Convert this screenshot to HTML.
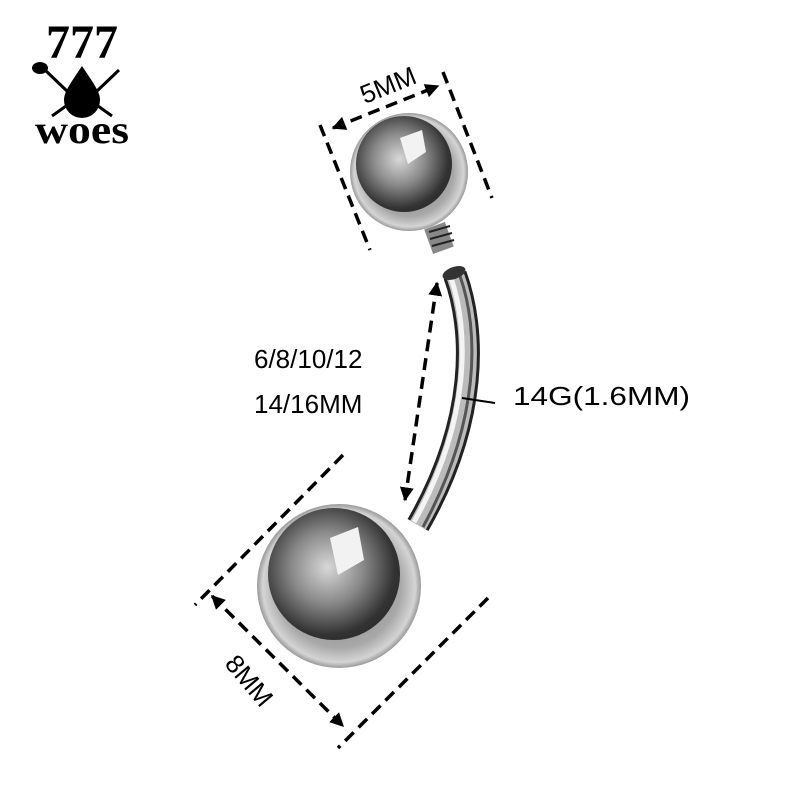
<!DOCTYPE html>
<html><head><meta charset="utf-8"><style>
html,body{margin:0;padding:0;background:#fff;width:800px;height:800px;overflow:hidden}
</style></head><body>
<svg width="800" height="800" viewBox="0 0 800 800" xmlns="http://www.w3.org/2000/svg">
<defs>
<radialGradient id="outer" cx="0.5" cy="0.5" r="0.5">
<stop offset="0" stop-color="#777"/><stop offset="0.75" stop-color="#a8a8a8"/><stop offset="0.93" stop-color="#d4d4d4"/><stop offset="1" stop-color="#999"/>
</radialGradient>
<radialGradient id="inner" cx="0.45" cy="0.45" r="0.6">
<stop offset="0" stop-color="#d8d8d8"/><stop offset="0.45" stop-color="#8a8a8a"/><stop offset="0.85" stop-color="#333"/><stop offset="1" stop-color="#2a2a2a"/>
</radialGradient>
<marker id="ah" viewBox="0 0 10 10" refX="9" refY="5" markerWidth="4" markerHeight="4" orient="auto-start-reverse"><path d="M0,0L10,5L0,10z" fill="#000"/></marker>
</defs>
<!-- logo -->
<text x="82" y="58" font-family="Liberation Serif,serif" font-weight="bold" font-size="48" text-anchor="middle">777</text>
<path d="M82,66 C70,84 64,92 64,100 A18,18 0 0 0 100,100 C100,92 94,84 82,66z" fill="#000"/>
<path d="M45,70 L68,92 M119,70 L96,92 M52,116 L66,106 M112,116 L98,106" stroke="#000" stroke-width="3"/>
<ellipse cx="40" cy="68" rx="8" ry="6" fill="#000"/>
<text x="82" y="143" font-family="Liberation Serif,serif" font-weight="bold" font-size="40" text-anchor="middle" textLength="94" lengthAdjust="spacingAndGlyphs">woes</text>
<!-- bar -->
<path d="M455,275 C475,330 478,420 418,525" fill="none" stroke="#222" stroke-width="24"/>
<path d="M455,275 C475,330 478,420 418,525" fill="none" stroke="#bbb" stroke-width="18"/>
<path d="M451,278 C469,330 471,420 414,522" fill="none" stroke="#f4f4f4" stroke-width="5"/>
<path d="M460,276 C479,330 481,420 423,527" fill="none" stroke="#555" stroke-width="3"/>
<ellipse cx="454" cy="273" rx="12" ry="6" fill="#333" transform="rotate(-20 454 273)"/>
<!-- thread -->
<rect x="428" y="225" width="22" height="26" fill="#888" transform="rotate(-20 439 238)"/>
<path d="M429,232 L450,226 M430,239 L452,233 M432,246 L454,240" stroke="#222" stroke-width="2" />
<!-- small ball -->
<circle cx="409" cy="172" r="59" fill="url(#outer)"/>
<circle cx="404" cy="164" r="48" fill="url(#inner)"/>
<path d="M400,138 L422,130 L426,152 L408,164z" fill="#f2f2f2"/>
<!-- big ball -->
<circle cx="339" cy="586" r="82" fill="url(#outer)"/>
<circle cx="334" cy="574" r="66" fill="url(#inner)"/>
<path d="M330,538 L358,527 L364,560 L338,575z" fill="#f2f2f2"/>
<!-- dims -->
<g stroke="#000" stroke-width="3.5" stroke-dasharray="12,7" fill="none">
<line x1="320" y1="125" x2="370" y2="250"/>
<line x1="443" y1="72" x2="492" y2="198"/>
<line x1="333" y1="128" x2="438" y2="86" marker-start="url(#ah)" marker-end="url(#ah)"/>
<line x1="437" y1="283" x2="405" y2="500" marker-start="url(#ah)" marker-end="url(#ah)"/>
<line x1="343" y1="455" x2="195" y2="605"/>
<line x1="488" y1="598" x2="338" y2="748"/>
<line x1="212" y1="596" x2="343" y2="726" marker-start="url(#ah)" marker-end="url(#ah)"/>
</g>
<line x1="462" y1="398" x2="495" y2="403" stroke="#000" stroke-width="2"/>
<g font-family="Liberation Sans,sans-serif" font-size="26" fill="#000">
<text x="388" y="94" text-anchor="middle" transform="rotate(-22 388 85)">5MM</text>
<text x="254" y="368">6/8/10/12</text>
<text x="254" y="413">14/16MM</text>
<text x="513" y="405" textLength="177" lengthAdjust="spacingAndGlyphs">14G(1.6MM)</text>
<text x="250" y="690" text-anchor="middle" transform="rotate(50 250 680)">8MM</text>
</g>
</svg>
</body></html>
